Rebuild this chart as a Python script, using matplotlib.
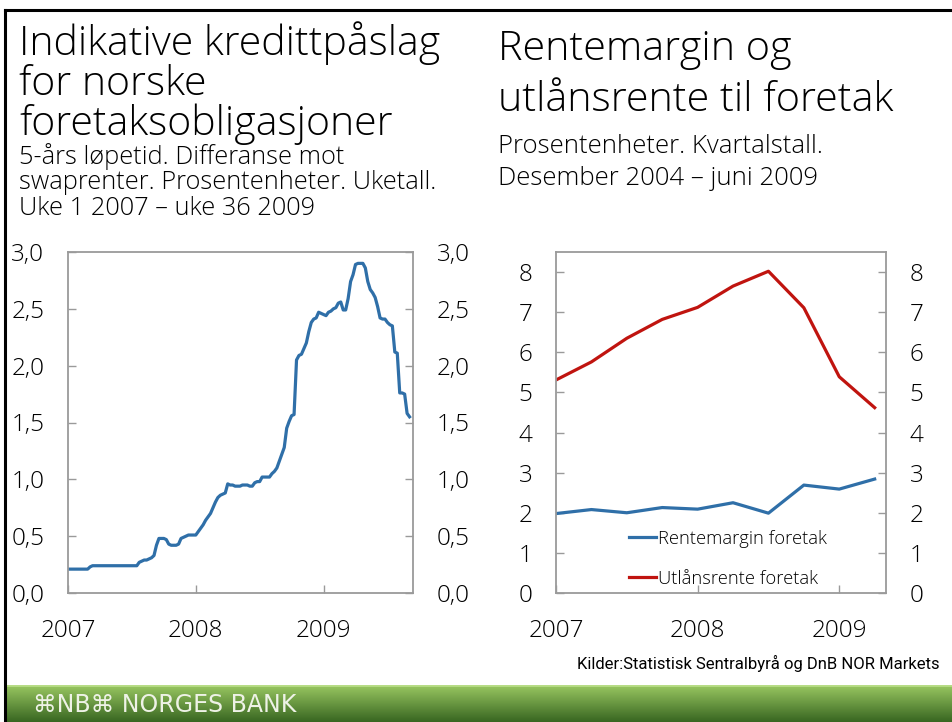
import numpy as np
import matplotlib.pyplot as plt
from matplotlib.lines import Line2D
from matplotlib.ticker import FuncFormatter

# Indikative kredittpåslag, uke 1 2007 - uke 36 2009 (prosentenheter)
spread_2007 = [0.21, 0.21, 0.21, 0.21, 0.21, 0.21, 0.21, 0.21, 0.21, 0.23,
               0.24, 0.24, 0.24, 0.24, 0.24, 0.24, 0.24, 0.24, 0.24, 0.24,
               0.24, 0.24, 0.24, 0.24, 0.24, 0.24, 0.24, 0.24, 0.24, 0.27,
               0.28, 0.29, 0.29, 0.30, 0.31, 0.33, 0.42, 0.48, 0.48, 0.48,
               0.47, 0.43, 0.42, 0.42, 0.42, 0.43, 0.48, 0.49, 0.50, 0.51,
               0.51, 0.51]
spread_2008 = [0.51, 0.54, 0.57, 0.60, 0.64, 0.67, 0.70, 0.75, 0.80, 0.84,
               0.86, 0.87, 0.88, 0.96, 0.95, 0.95, 0.94, 0.94, 0.94, 0.95,
               0.95, 0.95, 0.94, 0.94, 0.97, 0.98, 0.98, 1.02, 1.02, 1.02,
               1.02, 1.05, 1.07, 1.10, 1.16, 1.22, 1.28, 1.45, 1.51, 1.56,
               1.57, 2.05, 2.09, 2.10, 2.15, 2.20, 2.30, 2.38, 2.41, 2.42,
               2.47, 2.46]
spread_2009 = [2.45, 2.44, 2.47, 2.48, 2.50, 2.51, 2.55, 2.56, 2.49, 2.49,
               2.59, 2.74, 2.80, 2.89, 2.90, 2.90, 2.90, 2.86, 2.74, 2.67,
               2.64, 2.60, 2.52, 2.42, 2.41, 2.41, 2.38, 2.36, 2.35, 2.12,
               2.11, 1.76, 1.76, 1.75, 1.58, 1.55]

# Kvartalstall
quarters = [2007.0, 2007.25, 2007.5, 2007.75, 2008.0, 2008.25, 2008.5, 2008.75, 2009.0, 2009.25]
rentemargin = [1.98, 2.08, 2.00, 2.13, 2.09, 2.25, 1.99, 2.69, 2.59, 2.84]
utlansrente = [5.31, 5.76, 6.35, 6.82, 7.12, 7.65, 8.02, 7.11, 5.39, 4.62]

year_ticks = [2007, 2008, 2009]
year_labels = ["2007", "2008", "2009"]

weeks_x = []
for year, vals in [(2007, spread_2007), (2008, spread_2008), (2009, spread_2009)]:
    for i in range(len(vals)):
        weeks_x.append(year + i / 52)
spread = spread_2007 + spread_2008 + spread_2009

plt.rcParams['font.family'] = ['Open Sans', 'DejaVu Sans']
plt.rcParams['font.weight'] = 'light'

W, H = 952, 722
fig = plt.figure(figsize=(W / 100, H / 100), dpi=100)

BLUE = '#2f6fa8'
RED = '#c0140f'
GREY = '#9a9a9a'
TXT = '#000000'


def fx(x):
    return x / W


def fy(y):
    return 1 - y / H


def style_axes(ax):
    for s in ax.spines.values():
        s.set_color(GREY)
        s.set_linewidth(1.3)
    ax.tick_params(axis='both', direction='in', color=GREY, width=1.0, length=6,
                   labelsize=17.5, labelcolor=TXT)
    ax.tick_params(axis='y', which='both', left=True, right=True,
                   labelleft=True, labelright=True, pad=17)
    ax.tick_params(axis='x', pad=19)
    ax.set_xticks(year_ticks)
    ax.set_xticklabels(year_labels)


# venstre figur
ax1 = fig.add_axes([fx(68), fy(593), fx(413) - fx(68), fy(252) - fy(593)])
ax1.plot(weeks_x, spread, color=BLUE, lw=2.3, solid_joinstyle='round')
ax1.set_xlim(2007, 2009.70)
ax1.set_ylim(0, 3)
ax1.set_yticks(np.arange(0, 3.01, 0.5))
ax1.yaxis.set_major_formatter(FuncFormatter(lambda v, p: f"{v:.1f}".replace('.', ',')))
style_axes(ax1)

# høyre figur
ax2 = fig.add_axes([fx(556), fy(593), fx(886) - fx(556), fy(252) - fy(593)])
ax2.plot(quarters, rentemargin, color=BLUE, lw=2.3, label='Rentemargin foretak')
ax2.plot(quarters, utlansrente, color=RED, lw=2.3, label='Utlånsrente foretak')
ax2.set_xlim(2007, 2009.33)
ax2.set_ylim(0, 8.5)
ax2.set_yticks(range(0, 9))
style_axes(ax2)
ax2.legend(loc='center left', bbox_to_anchor=(0.22, 0.10), frameon=False,
           fontsize=13.2, handlelength=1.5, handletextpad=0.1, labelspacing=1.2,
           borderpad=0, borderaxespad=0)

# titler
left_title = ["Indikative kredittpåslag", "for norske", "foretaksobligasjoner"]
for line, y in zip(left_title, [55, 95, 135]):
    fig.text(fx(19), fy(y), line, fontsize=29.5, color=TXT, va='baseline')
left_sub = ["5-års løpetid. Differanse mot", "swaprenter. Prosentenheter. Uketall.",
            "Uke 1 2007 – uke 36 2009"]
for line, y in zip(left_sub, [164, 189, 215]):
    fig.text(fx(19), fy(y), line, fontsize=18.3, color=TXT, va='baseline')

right_title = ["Rentemargin og", "utlånsrente til foretak"]
for line, y in zip(right_title, [60, 111]):
    fig.text(fx(498), fy(y), line, fontsize=29.8, color=TXT, va='baseline')
right_sub = ["Prosentenheter. Kvartalstall.", "Desember 2004 – juni 2009"]
for line, y in zip(right_sub, [153, 185]):
    fig.text(fx(498), fy(y), line, fontsize=18.5, color=TXT, va='baseline')

fig.text(fx(577), fy(663), "Kilder:Statistisk Sentralbyrå og DnB NOR Markets",
         fontsize=12, color=TXT, va='center',
         family=['Roboto', 'DejaVu Sans'], fontweight='normal')

# ramme
fig.add_artist(Line2D([fx(5), fx(952)], [fy(10), fy(10)], color='black', lw=2.2,
                      transform=fig.transFigure))
fig.add_artist(Line2D([fx(5), fx(5)], [fy(10), fy(722)], color='black', lw=2.2,
                      transform=fig.transFigure))

# grønt bånd nederst
band = fig.add_axes([fx(7), 0, 1 - fx(7), fy(685)])
grad = np.linspace(0, 1, 100).reshape(-1, 1)
top = np.array([0.60, 0.78, 0.38])
bot = np.array([0.22, 0.40, 0.13])
img = top + (bot - top) * grad[:, :, None]
band.imshow(img, aspect='auto', extent=[0, 1, 0, 1])
band.axhline(1, color='#b7dc86', lw=2)
band.set_axis_off()
band.text(0.028, 0.45, "⌘NB⌘ NORGES BANK", transform=band.transAxes,
          fontsize=17, color='#eef2e6', va='center', family=['DejaVu Sans'],
          fontweight='normal')

fig.savefig('out.png', dpi=100)
